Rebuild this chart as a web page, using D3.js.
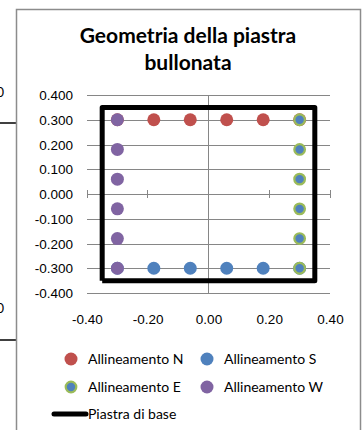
<!doctype html>
<html>
<head>
<meta charset="utf-8">
<style>
  body { margin: 0; background: #fff; }
  svg { display: block; font-family: Lato, "Open Sans", sans-serif; }
  .grid line { stroke: #868686; stroke-width: 1; shape-rendering: crispEdges; }
  .grid path { display: none; }
  .tick text { fill: #000; font-size: 13.5px; }
</style>
<script src="https://d3js.org/d3.v7.min.js"></script>
</head>
<body>
<svg width="364" height="430"></svg>
<script>
// data
var seriesNames = ["Allineamento N", "Allineamento S", "Allineamento E", "Allineamento W"];
var rowX = [-0.3, -0.18, -0.06, 0.06, 0.18, 0.3];
var colY = [0.3, 0.18, 0.06, -0.06, -0.18, -0.3];
var nX = rowX, nY = [0.3, 0.3, 0.3, 0.3, 0.3, 0.3];
var sX = rowX, sY = [-0.3, -0.3, -0.3, -0.3, -0.3, -0.3];
var eX = [0.3, 0.3, 0.3, 0.3, 0.3, 0.3], eY = colY;
var wX = [-0.3, -0.3, -0.3, -0.3, -0.3, -0.3], wY = colY;
var plateX = [-0.35, -0.35, 0.35, 0.35, -0.35];
var plateY = [-0.35, 0.35, 0.35, -0.35, -0.35];
var yTicks = [-0.4, -0.3, -0.2, -0.1, 0, 0.1, 0.2, 0.3, 0.4];
var xTicks = [-0.4, -0.2, 0, 0.2, 0.4];

var svg = d3.select("svg");

var x = d3.scaleLinear().domain([-0.4, 0.4]).range([87, 330]);
var y = d3.scaleLinear().domain([-0.4, 0.4]).range([293, 95]);

// plain hyphen for negatives, like the original
function fmt(p) {
  var f = d3.format("." + p + "f");
  return function(d) { return f(d).replace("\u2212", "-"); };
}

// bits of a neighbouring chart peeking in on the left
svg.append("text").attr("x", 4).attr("y", 97).attr("text-anchor", "end")
   .style("font-size", "13px").text("0");
svg.append("text").attr("x", 4).attr("y", 313).attr("text-anchor", "end")
   .style("font-size", "13px").text("0");
svg.append("line").attr("x1", 0).attr("x2", 16).attr("y1", 123).attr("y2", 123)
   .attr("stroke", "#000").attr("stroke-width", 1.5);
svg.append("line").attr("x1", 0).attr("x2", 16).attr("y1", 340).attr("y2", 340)
   .attr("stroke", "#000").attr("stroke-width", 1.5);

// chart frame
svg.append("rect").attr("x", 16.5).attr("y", 9.5).attr("width", 344).attr("height", 430)
   .attr("fill", "#fff").attr("stroke", "#8c8c8c").attr("stroke-width", 1.5);

// title
svg.append("text").attr("x", 188).attr("y", 43).attr("text-anchor", "middle")
   .style("font-size", "21px").style("font-weight", "bold").text("Geometria della piastra");
svg.append("text").attr("x", 188).attr("y", 70).attr("text-anchor", "middle")
   .style("font-size", "21px").style("font-weight", "bold").text("bullonata");

// horizontal gridlines + y labels
svg.append("g").attr("class", "grid")
   .attr("transform", "translate(87,0)")
   .call(d3.axisLeft(y).tickValues(yTicks).tickSize(-243).tickPadding(14)
     .tickFormat(fmt(3)))
   .selectAll(".tick text").attr("dy", "0.35em");

// x labels along the bottom
svg.append("g").attr("class", "grid")
   .attr("transform", "translate(0,293)")
   .call(d3.axisBottom(x).tickValues(xTicks).tickSize(0).tickPadding(21)
     .tickFormat(fmt(2)));

// value axis (vertical at x = 0) and category axis (horizontal at y = 0)
svg.append("line").attr("x1", x(0)).attr("x2", x(0)).attr("y1", y(0.4)).attr("y2", y(-0.4))
   .attr("stroke", "#868686").attr("shape-rendering", "crispEdges");
svg.selectAll(".xtick").data(xTicks).enter().append("line")
   .attr("x1", function(d) { return x(d); }).attr("x2", function(d) { return x(d); })
   .attr("y1", y(0) - 4).attr("y2", y(0) + 4)
   .attr("stroke", "#868686").attr("shape-rendering", "crispEdges");

var colors = ["#C0504D", "#4F81BD", "#9BBB59", "#8064A2"];
var allX = [nX, sX, eX, wX], allY = [nY, sY, eY, wY];

seriesNames.forEach(function(name, i) {
  var pts = allX[i].map(function(v, j) { return [v, allY[i][j]]; });
  svg.append("g").selectAll("circle").data(pts).enter().append("circle")
     .attr("cx", function(d) { return x(d[0]); })
     .attr("cy", function(d) { return y(d[1]); })
     .attr("r", i == 2 ? 5.3 : 6.5)
     .attr("fill", i == 2 ? colors[1] : colors[i])
     .attr("stroke", i == 2 ? colors[2] : "none")
     .attr("stroke-width", 2.2);
});

// base plate outline
var plate = plateX.map(function(v, j) { return [v, plateY[j]]; });
svg.append("path")
   .attr("d", d3.line().x(function(d) { return x(d[0]); }).y(function(d) { return y(d[1]); })(plate))
   .attr("fill", "none").attr("stroke", "#000").attr("stroke-width", 5)
   .attr("stroke-linejoin", "round");

// legend
var legPos = [[71, 359], [207, 359], [71, 387], [207, 387]];
seriesNames.forEach(function(name, i) {
  var g = svg.append("g").attr("transform", "translate(" + legPos[i][0] + "," + legPos[i][1] + ")");
  g.append("circle").attr("r", i == 2 ? 5.3 : 6.5)
   .attr("fill", i == 2 ? colors[1] : colors[i])
   .attr("stroke", i == 2 ? colors[2] : "none").attr("stroke-width", 2.2);
  g.append("text").attr("x", 17).attr("dy", "0.35em").style("font-size", "14px").text(name);
});
svg.append("line").attr("x1", 54).attr("x2", 86).attr("y1", 414).attr("y2", 414)
   .attr("stroke", "#000").attr("stroke-width", 5).attr("stroke-linecap", "round");
svg.append("text").attr("x", 88).attr("y", 414).attr("dy", "0.35em")
   .style("font-size", "14px").text("Piastra di base");
</script>
</body>
</html>
